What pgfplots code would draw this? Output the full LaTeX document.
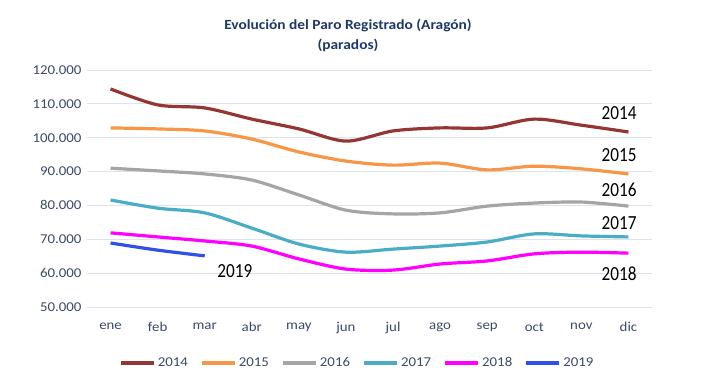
\documentclass[border=0pt]{standalone}
\usepackage{pgfplots}
\pgfplotsset{compat=1.18}
\usepackage{fontspec}
\setmainfont{Carlito}[FakeStretch=1.1]
\newfontfamily\lblfont{Carlito}[FakeStretch=0.86]
\definecolor{c14}{HTML}{943634}
\definecolor{c15}{HTML}{F79646}
\definecolor{c16}{HTML}{A5A5A5}
\definecolor{c17}{HTML}{4BACC6}
\definecolor{c18}{HTML}{FF00FF}
\definecolor{c19}{HTML}{3050E8}
\definecolor{tickc}{HTML}{3B4A68}
\definecolor{ttl}{HTML}{1F3864}
\definecolor{gridc}{HTML}{DCE3EF}
\begin{document}
\begin{tikzpicture}[x=1pt,y=1pt]
\path[use as bounding box] (0,0) rectangle (720,391);
\node[font=\fontsize{14}{16}\selectfont\bfseries, text=ttl] at (348,366) {Evolución del Paro Registrado (Aragón)};
\node[font=\fontsize{14}{16}\selectfont\bfseries, text=ttl] at (348,346) {(parados)};
\begin{axis}[
  at={(87pt,84pt)}, anchor=south west,
  scale only axis, width=565pt, height=237pt,
  xmin=-0.5, xmax=11.5, ymin=50, ymax=120,
  xtick={0,...,11},
  xticklabels={ene,feb,mar,abr,may,jun,jul,ago,sep,oct,nov,dic},
  ytick={50,60,...,120},
  yticklabels={50.000,60.000,70.000,80.000,90.000,100.000,110.000,120.000},
  ymajorgrids, xmajorgrids=false, grid style={draw=gridc, line width=0.8pt},
  axis line style={draw=none},
  major tick length=0pt,
  tick label style={text=tickc, font=\fontsize{13.5}{16}\selectfont},
  yticklabel style={xshift=-2pt},
  xticklabel style={yshift=-12pt},
  every axis plot/.append style={line width=3.2pt, smooth, tension=0.5, no marks},
  legend style={at={(0.478,-0.236)}, anchor=center, draw=none, fill=none,
    legend columns=6, font=\fontsize{13.5}{15}\selectfont, text=tickc,
    /tikz/every even column/.append style={column sep=10pt}},
  legend image code/.code={\draw[#1, line width=4pt] (0pt,0pt) -- (33pt,0pt);},
  clip=false,
]
\addplot[c14] coordinates {(0,114.4)(1,109.7)(2,108.8)(3,105.5)(4,102.6)(5,99.0)(6,102.0)(7,102.9)(8,102.9)(9,105.5)(10,103.7)(11,101.7)};
\addlegendentry{2014}
\addplot[c15] coordinates {(0,102.9)(1,102.6)(2,102.0)(3,99.6)(4,95.8)(5,93.1)(6,91.9)(7,92.5)(8,90.5)(9,91.6)(10,90.8)(11,89.3)};
\addlegendentry{2015}
\addplot[c16] coordinates {(0,91.0)(1,90.2)(2,89.3)(3,87.5)(4,83.1)(5,78.6)(6,77.5)(7,77.8)(8,79.8)(9,80.7)(10,81.0)(11,79.8)};
\addlegendentry{2016}
\addplot[c17] coordinates {(0,81.6)(1,79.2)(2,77.8)(3,73.3)(4,68.6)(5,66.2)(6,67.1)(7,68.0)(8,69.2)(9,71.6)(10,71.0)(11,70.7)};
\addlegendentry{2017}
\addplot[c18] coordinates {(0,71.9)(1,70.7)(2,69.5)(3,68.0)(4,64.2)(5,61.2)(6,60.9)(7,62.7)(8,63.6)(9,65.7)(10,66.2)(11,65.9)};
\addlegendentry{2018}
\addplot[c19] coordinates {(0,68.9)(1,66.8)(2,65.1)};
\addlegendentry{2019}
\node[font=\lblfont\fontsize{20}{22}\selectfont] at (axis cs:10.8,107.3) {2014};
\node[font=\lblfont\fontsize{20}{22}\selectfont] at (axis cs:10.8,94.9) {2015};
\node[font=\lblfont\fontsize{20}{22}\selectfont] at (axis cs:10.8,84.6) {2016};
\node[font=\lblfont\fontsize{20}{22}\selectfont] at (axis cs:10.8,74.8) {2017};
\node[font=\lblfont\fontsize{20}{22}\selectfont] at (axis cs:10.8,59.7) {2018};
\node[font=\lblfont\fontsize{20}{22}\selectfont] at (axis cs:2.64,60.5) {2019};
\end{axis}
\end{tikzpicture}
\end{document}
